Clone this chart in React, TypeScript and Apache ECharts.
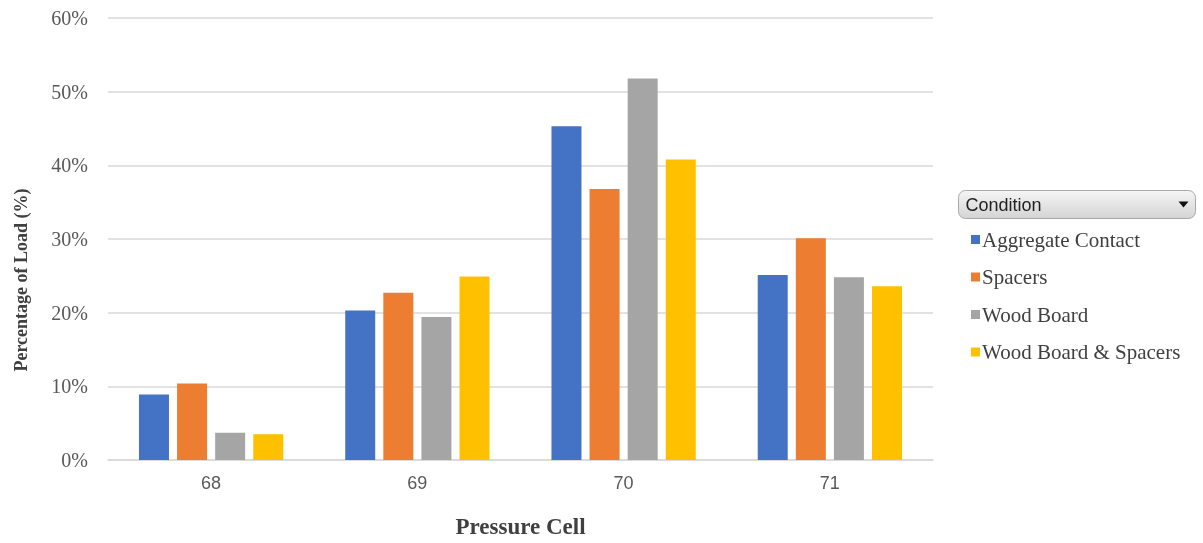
import React, { useEffect, useRef } from "react";
import * as echarts from "echarts";

const categories = ["68", "69", "70", "71"];
const seriesNames = ["Aggregate Contact", "Spacers", "Wood Board", "Wood Board & Spacers"];
const aggregateContact = [8.9, 20.3, 45.3, 25.1];
const spacers = [10.4, 22.7, 36.8, 30.1];
const woodBoard = [3.7, 19.4, 51.8, 24.8];
const woodBoardSpacers = [3.5, 24.9, 40.8, 23.6];
const colors = ["#4472C4", "#ED7D31", "#A5A5A5", "#FFC000"];
const yTicks = [0, 10, 20, 30, 40, 50, 60];

export default function App() {
  const ref = useRef<HTMLDivElement>(null);
  useEffect(() => {
    if (!ref.current) return;
    const chart = echarts.init(ref.current, null, { renderer: "svg" });
    const values = [aggregateContact, spacers, woodBoard, woodBoardSpacers];
    chart.setOption({
      animation: false,
      grid: { left: 108, right: 270, top: 18, bottom: 80 },
      legend: {
        orient: "vertical",
        left: 966,
        top: 224,
        icon: "rect",
        itemWidth: 9,
        itemHeight: 9,
        itemGap: 16.5,
        data: seriesNames,
        textStyle: {
          fontFamily: "Liberation Serif",
          fontSize: 21,
          color: "#404040",
          padding: [0, 0, 0, -3],
        },
      },
      xAxis: {
        type: "category",
        data: categories,
        name: "Pressure Cell",
        nameLocation: "middle",
        nameGap: 55,
        nameTextStyle: {
          fontFamily: "Liberation Serif",
          fontWeight: "bold",
          fontSize: 23,
          color: "#404040",
        },
        axisLine: { lineStyle: { color: "#d9d9d9", width: 1.5 } },
        axisTick: { show: false },
        axisLabel: {
          fontFamily: "Liberation Sans",
          fontSize: 18,
          color: "#595959",
          margin: 14,
        },
      },
      yAxis: {
        type: "value",
        min: 0,
        max: 60,
        interval: 10,
        axisLine: { show: false },
        axisTick: { show: false },
        splitLine: { lineStyle: { color: "#d9d9d9", width: 1.5 } },
        axisLabel: {
          formatter: (v: number) => (yTicks.includes(v) ? v + "%" : ""),
          fontFamily: "Liberation Serif",
          fontSize: 20,
          color: "#595959",
          margin: 20,
        },
      },
      series: seriesNames.map((name, i) => ({
        name,
        type: "bar",
        data: values[i],
        barWidth: 30,
        barGap: "27%",
        itemStyle: { color: colors[i] },
      })),
      graphic: [
        {
          type: "text",
          x: 21,
          y: 280,
          rotation: Math.PI / 2,
          style: {
            text: "Percentage of Load (%)",
            fontFamily: "Liberation Serif",
            fontWeight: "bold",
            fontSize: 18,
            fill: "#404040",
            align: "center",
            verticalAlign: "middle",
          },
        },
        {
          type: "group",
          left: 958,
          top: 190,
          children: [
            {
              type: "rect",
              shape: { x: 0, y: 0, width: 237, height: 28, r: 7 },
              style: {
                fill: new echarts.graphic.LinearGradient(0, 0, 0, 1, [
                  { offset: 0, color: "#f5f5f5" },
                  { offset: 1, color: "#d4d4d4" },
                ]),
                stroke: "#a8a8a8",
                lineWidth: 1,
              },
            },
            {
              type: "text",
              x: 7,
              y: 14,
              style: {
                text: "Condition",
                fontFamily: "Liberation Sans",
                fontSize: 18,
                fill: "#1f1f1f",
                verticalAlign: "middle",
              },
            },
            {
              type: "polygon",
              shape: { points: [[220, 11], [230, 11], [225, 17]] },
              style: { fill: "#111" },
            },
          ],
        },
      ],
    });
    return () => chart.dispose();
  }, []);
  return (
    <div
      ref={ref}
      style={{ position: "fixed", left: 0, top: 0, width: 1203, height: 543 }}
    />
  );
}
